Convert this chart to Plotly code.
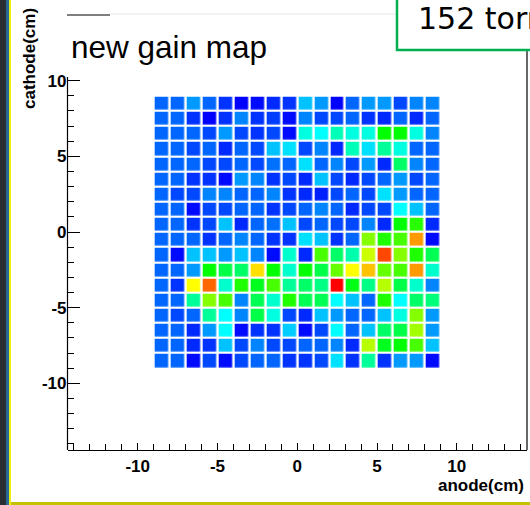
import colorsys
import plotly.graph_objects as go

W, H = 530, 505

# ---------------- data ----------------
x_centers = [-8.5 + i for i in range(18)]        # anode bin centres (cm)
y_centers = [8.5 - j for j in range(18)]         # cathode bin centres (cm), top row first

row_00 = [10, 10, 15, 10, 5, 0, 1, 4, 5, 19, 15, 0, 10, 15, 15, 7, 13, 13]
row_01 = [10, 10, 5, 0, 5, 13, 5, 6, 1, 13, 7, 7, 10, 5, 4, 10, 4, 10]
row_02 = [10, 10, 10, 7, 15, 7, 5, 7, 1, 28, 25, 32, 28, 28, 50, 50, 28, 13]
row_03 = [10, 10, 7, 10, 4, 10, 7, 19, 22, 7, 13, 4, 32, 22, 35, 28, 10, 10]
row_04 = [10, 10, 10, 7, 7, 10, 7, 11, 10, 22, 10, 13, 7, 15, 4, 40, 13, 10]
row_05 = [10, 10, 5, 5, 1, 15, 13, 5, 7, 4, 19, 7, 4, 7, 10, 15, 7, 10]
row_06 = [10, 7, 7, 13, 13, 10, 10, 13, 5, 4, 3, 7, 10, 7, 22, 15, 10, 10]
row_07 = [10, 10, 1, 7, 7, 10, 10, 5, 7, 10, 13, 10, 4, 7, 7, 25, 19, 10]
row_08 = [10, 10, 5, 7, 19, 4, 10, 11, 19, 7, 10, 7, 7, 13, 4, 50, 54, 4]
row_09 = [10, 10, 10, 5, 10, 13, 10, 5, 5, 22, 19, 5, 10, 63, 53, 57, 85, 1]
row_10 = [10, 1, 19, 19, 15, 19, 13, 1, 30, 4, 57, 40, 33, 70, 93, 63, 53, 42]
row_11 = [10, 10, 15, 50, 43, 40, 78, 50, 30, 50, 43, 60, 75, 81, 60, 57, 85, 30]
row_12 = [10, 5, 75, 90, 30, 53, 47, 57, 35, 40, 37, 100, 48, 37, 68, 43, 30, 13]
row_13 = [10, 10, 35, 63, 57, 13, 42, 30, 53, 42, 42, 25, 19, 10, 53, 25, 40, 38]
row_14 = [10, 7, 10, 35, 25, 13, 43, 28, 7, 4, 19, 15, 10, 10, 19, 28, 63, 15]
row_15 = [10, 10, 4, 15, 25, 1, 5, 5, 20, 1, 7, 25, 10, 19, 40, 43, 66, 15]
row_16 = [10, 10, 4, 5, 19, 7, 13, 7, 7, 10, 10, 13, 4, 68, 47, 50, 57, 19]
row_17 = [10, 10, 1, 7, 1, 7, 10, 10, 5, 5, 7, 22, 5, 35, 5, 15, 15, 1]

gain = [row_00, row_01, row_02, row_03, row_04, row_05, row_06, row_07, row_08,
        row_09, row_10, row_11, row_12, row_13, row_14, row_15, row_16, row_17]

x_tick_vals = [-10, -5, 0, 5, 10]
x_tick_text = ["-10", "-5", "0", "5", "10"]
y_tick_vals = [-10, -5, 0, 5, 10]
y_tick_text = ["-10", "-5", "0", "5", "10"]

# ---------------- style helpers ----------------
def px(x):
    return x / W

def py(y):
    return 1 - y / H

def hue_rgb(h):
    r, g, b = colorsys.hsv_to_rgb(h / 360.0, 1, 1)
    return f"rgb({int(round(r*255))},{int(round(g*255))},{int(round(b*255))})"

n = 24
colorscale = [[i / n, hue_rgb(240 - 240 * i / n)] for i in range(n + 1)]

FONT = "Liberation Sans, Arial, sans-serif"
tickfont = dict(family=FONT, size=17, color="black", weight="bold")

fig = go.Figure()
fig.add_trace(go.Heatmap(
    x=x_centers, y=y_centers, z=gain,
    zmin=0, zmax=100, colorscale=colorscale, showscale=False,
    xgap=2.5, ygap=2.2, hoverinfo="skip",
))

x_dom = [px(67.5), px(527)]
y_dom = [py(450), py(14)]

fig.update_layout(
    width=W, height=H,
    margin=dict(l=0, r=0, t=0, b=0),
    paper_bgcolor="white", plot_bgcolor="white",
    xaxis=dict(
        domain=x_dom, range=[-14.4, 14.4],
        showgrid=False, zeroline=False,
        showline=True, linecolor="black", linewidth=1.2,
        ticks="inside", ticklen=7, tickcolor="black", tickwidth=1.2,
        tickmode="array", tickvals=x_tick_vals, ticktext=x_tick_text,
        tickfont=tickfont,
        minor=dict(tickmode="array", tickvals=list(range(-14, 15)),
                   ticks="inside", ticklen=6, tickcolor="black", tickwidth=1.2),
    ),
    yaxis=dict(
        domain=y_dom, range=[-14.4, 14.4],
        showgrid=False, zeroline=False,
        showline=False,
        ticks="inside", ticklen=12, tickcolor="black", tickwidth=1.2,
        tickmode="array", tickvals=y_tick_vals, ticktext=y_tick_text,
        tickfont=tickfont,
        minor=dict(tickmode="array", tickvals=list(range(-14, 11)),
                   ticks="inside", ticklen=6, tickcolor="black", tickwidth=1.2),
    ),
)

shapes = []
def rect(x0, y0, x1, y1, fill, line=None, lw=0, layer="above"):
    shapes.append(dict(type="rect", xref="paper", yref="paper",
                       x0=px(x0), x1=px(x1), y0=py(y1), y1=py(y0),
                       fillcolor=fill, line=dict(color=line or fill, width=lw),
                       layer=layer))

def seg(x0, y0, x1, y1, color, lw=1.2):
    shapes.append(dict(type="line", xref="paper", yref="paper",
                       x0=px(x0), x1=px(x1), y0=py(y0), y1=py(y1),
                       line=dict(color=color, width=lw), layer="above"))

# slide decorations
rect(0, 0, 6, 505, "#2b2f34")
rect(6, 0, 9, 505, "#2a6a98")
rect(9, 0, 11, 505, "#eeee10")
rect(11, 502, 530, 505, "#c2c200")

# frame pieces
seg(67.5, 77, 67.5, 450, "black")
seg(527, 50, 527, 450, "black")
seg(67, 15, 110, 15, "black", 1.2)
seg(110, 14, 397, 14, "#e4e4e4", 1)

# label box top right
rect(397, -5, 545, 50, "white", "#00b050", 2.5)

fig.update_layout(shapes=shapes)

fig.add_annotation(text="new gain map", xref="paper", yref="paper",
                   x=px(69), y=py(47), xanchor="left", yanchor="middle",
                   showarrow=False, font=dict(family=FONT, size=31.5, color="black"))
fig.add_annotation(text="152 torr", xref="paper", yref="paper",
                   x=px(416), y=py(18), xanchor="left", yanchor="middle",
                   showarrow=False, font=dict(family="DejaVu Sans", size=30, color="black"))
fig.add_annotation(text="anode(cm)", xref="paper", yref="paper",
                   x=px(526), y=py(485), xanchor="right", yanchor="middle",
                   showarrow=False,
                   font=dict(family=FONT, size=17, color="black", weight="bold"))
fig.add_annotation(text="cathode(cm)", xref="paper", yref="paper",
                   x=px(30), y=py(59), xanchor="center", yanchor="middle",
                   textangle=-90, showarrow=False,
                   font=dict(family=FONT, size=17, color="black", weight="bold"))

fig.write_html("out.html")
